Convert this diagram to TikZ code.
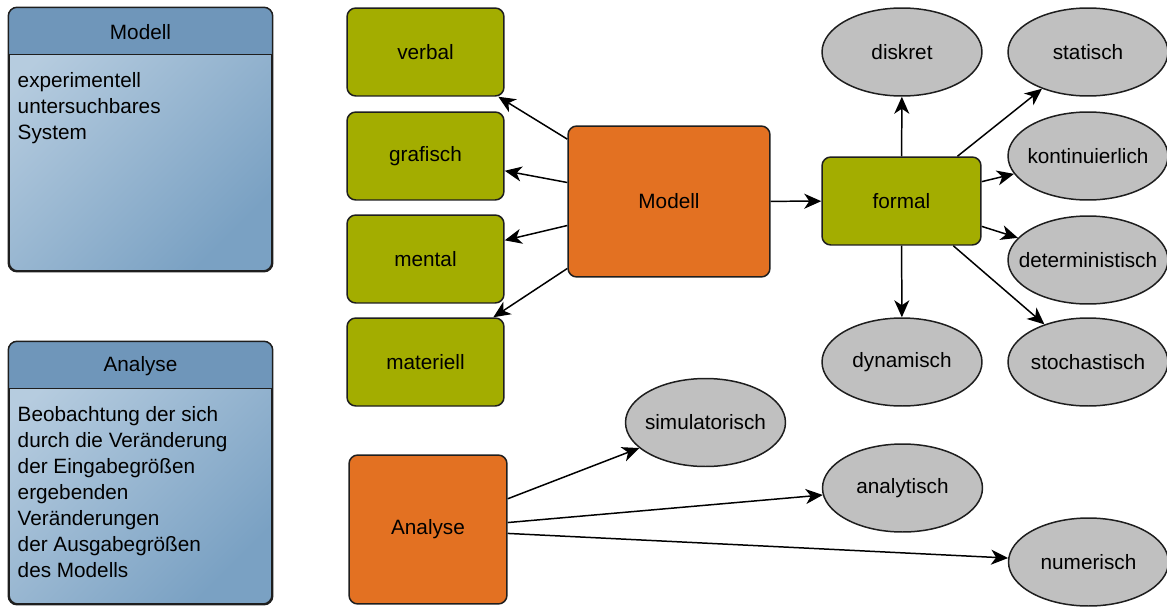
\documentclass[tikz,border=0pt]{standalone}
\usepackage{fontspec}
\setmainfont{Liberation Sans}
\usetikzlibrary{arrows.meta, calc, shapes.geometric}
\definecolor{cgreen}{HTML}{A3AD00}
\definecolor{corange}{HTML}{E37122}
\definecolor{cgrey}{HTML}{C0C0C0}
\definecolor{cline}{HTML}{1E1E1E}
\definecolor{clight}{HTML}{B6CCDF}
\definecolor{cdark}{HTML}{7AA1C3}
\definecolor{chead}{HTML}{6F96BA}
\tikzset{
  every picture/.style={font=\fontsize{11.8}{14.8}\selectfont, line width=0.85pt},
  box/.style={draw=cline, fill=#1, rounded corners=5pt, align=center, inner sep=0pt},
  box/.default=cgreen,
  oval/.style={ellipse, draw=cline, fill=cgrey, minimum width=3.2cm, minimum height=1.76cm, inner ysep=0pt, inner xsep=-0.6cm},
  arrow/.style={-{Stealth[length=0.34cm, width=0.3cm, inset=0.1cm]}, draw=black, line width=0.85pt},
  infobox/.style={draw=cline, rounded corners=5pt, top color=clight, bottom color=cdark, shading angle=45, minimum width=5.26cm, minimum height=5.26cm},
  infotext/.style={anchor=north west, align=left, inner sep=0pt},
}

\begin{document}
\begin{tikzpicture}[x=0.02cm, y=-0.02cm]
  \useasboundingbox (0,0) rectangle (1167,606);
  % left info boxes
  \node[infobox] (modbox) at (140.5,139.5) {};
  \begin{scope}
    \clip[rounded corners=5pt] (modbox.south west) rectangle (modbox.north east);
    \fill[chead] (modbox.north west) rectangle ($(modbox.north east)+(0,47)$);
  \end{scope}
  \draw[cline, rounded corners=5pt] (modbox.south west) rectangle (modbox.north east);
  \draw[cline] ($(modbox.north west)+(0,47)$) -- ($(modbox.north east)+(0,47)$);
  \node (modhead) at (140.5,32) {Modell};
  \node[infotext] (modtext) at (17,72) {experimentell\\untersuchbares\\System};

  \node[infobox, minimum height=5.24cm] (anabox) at (140.5,473) {};
  \begin{scope}
    \clip[rounded corners=5pt] (anabox.south west) rectangle (anabox.north east);
    \fill[chead] (anabox.north west) rectangle ($(anabox.north east)+(0,47)$);
  \end{scope}
  \draw[cline, rounded corners=5pt] (anabox.south west) rectangle (anabox.north east);
  \draw[cline] ($(anabox.north west)+(0,47)$) -- ($(anabox.north east)+(0,47)$);
  \node (anahead) at (140.5,366) {Analyse};
  \node[infotext] (anatext) at (17,406) {Beobachtung der sich\\durch die Veränderung\\der Eingabegrößen\\ergebenden\\Veränderungen\\der Ausgabegrößen\\des Modells};

  % model kinds
  \node[box, minimum width=3.14cm, minimum height=1.76cm] (verbal) at (425.5,52) {verbal};
  \node[box, minimum width=3.14cm, minimum height=1.76cm] (grafisch) at (425.5,156) {grafisch};
  \node[box, minimum width=3.14cm, minimum height=1.76cm] (mental) at (425.5,259) {mental};
  \node[box, minimum width=3.14cm, minimum height=1.76cm] (materiell) at (425.5,362) {materiell};
  \node[box=corange, minimum width=4.04cm, minimum height=3.02cm] (modell) at (669,201.5) {Modell};
  \node[box, minimum width=3.18cm, minimum height=1.76cm] (formal) at (901.5,201) {formal};

  % properties of formal models
  \node[oval] (diskret) at (902,52) {diskret};
  \node[oval] (statisch) at (1088,52) {statisch};
  \node[oval] (kontinuierlich) at (1088,156) {kontinuierlich};
  \node[oval] (deterministisch) at (1088,260) {deterministisch};
  \node[oval] (stochastisch) at (1088,362) {stochastisch};
  \node[oval] (dynamisch) at (902,362) {dynamisch};

  % analysis
  \node[box=corange, minimum width=3.16cm, minimum height=2.98cm] (analyse) at (428,529.5) {Analyse};
  \node[oval] (simulatorisch) at (705.5,422.5) {simulatorisch};
  \node[oval] (analytisch) at (902.5,488) {analytisch};
  \node[oval] (numerisch) at (1088.5,562) {numerisch};

  \foreach \t in {verbal, grafisch, mental, materiell, formal}
    \draw[arrow] (modell) -- (\t);
  \foreach \t in {diskret, statisch, kontinuierlich, deterministisch, stochastisch, dynamisch}
    \draw[arrow] (formal) -- (\t);
  \foreach \t in {simulatorisch, analytisch, numerisch}
    \draw[arrow] (analyse) -- (\t);
\end{tikzpicture}
\end{document}
